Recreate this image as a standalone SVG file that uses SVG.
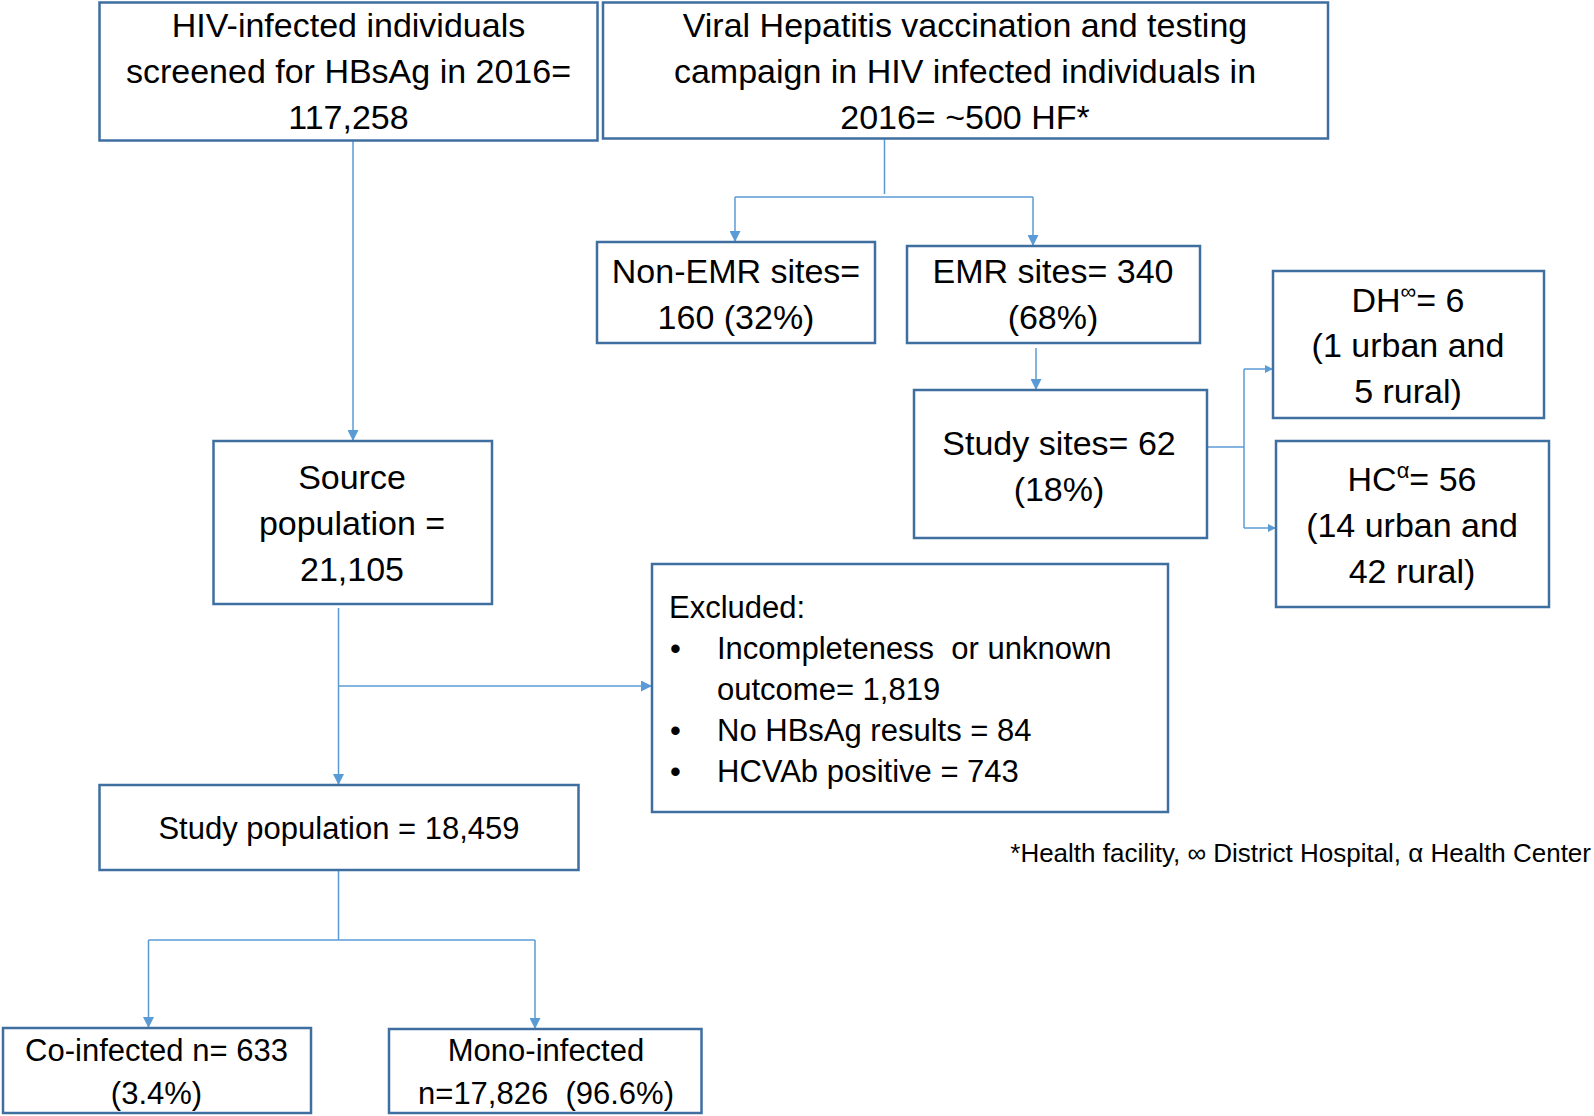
<svg xmlns="http://www.w3.org/2000/svg" width="1594" height="1116" viewBox="0 0 1594 1116">
<defs>
<marker id="ah" viewBox="0 0 10 10" refX="10" refY="5" markerWidth="12" markerHeight="11" markerUnits="userSpaceOnUse" orient="auto">
<path d="M0,0 L10,5 L0,10 z" fill="#5B9BD5"/>
</marker>
<marker id="ahs" viewBox="0 0 10 10" refX="10" refY="5" markerWidth="9" markerHeight="8" markerUnits="userSpaceOnUse" orient="auto">
<path d="M0,0 L10,5 L0,10 z" fill="#5B9BD5"/>
</marker>
</defs>
<style>
.box{fill:#fff;stroke:#3F6FA0;stroke-width:2.5}
.t{font-family:"Liberation Sans",Arial,sans-serif;font-size:34px;fill:#000;text-anchor:middle}
.s{font-family:"Liberation Sans",Arial,sans-serif;font-size:31px;fill:#000}
.f{font-family:"Liberation Sans",Arial,sans-serif;font-size:26px;fill:#000;text-anchor:end}
.sup{font-size:22px}
.c{fill:none;stroke:#5B9BD5;stroke-width:1.5}
.ca{fill:none;stroke:#5B9BD5;stroke-width:1.5;marker-end:url(#ah)}
.cs{fill:none;stroke:#5B9BD5;stroke-width:1.5;marker-end:url(#ahs)}
</style>
<rect width="1594" height="1116" fill="#fff"/>
<g id="connectors">
<path class="ca" d="M353,140 V441"/>
<path class="c" d="M884.5,138 V194"/>
<path class="c" d="M735,197 H1033"/>
<path class="ca" d="M735,197 V242"/>
<path class="ca" d="M1033,197 V246"/>
<path class="ca" d="M1036,348 V390"/>
<path class="c" d="M1207,447 H1244"/>
<path class="c" d="M1244,369 V528"/>
<path class="cs" d="M1244,369 H1273"/>
<path class="cs" d="M1244,528 H1276"/>
<path class="ca" d="M338.5,608 V785"/>
<path class="ca" d="M338.5,686 H652"/>
<path class="c" d="M338.5,870 V940"/>
<path class="c" d="M148.5,940 H535"/>
<path class="ca" d="M148.5,940 V1028"/>
<path class="ca" d="M535,940 V1029"/>
</g>
<g id="n-hiv">
<rect class="box" x="99.5" y="2.5" width="498" height="138"/>
<text class="t" x="348.5" y="37">HIV-infected individuals</text>
<text class="t" x="348.5" y="83">screened for HBsAg in 2016=</text>
<text class="t" x="348.5" y="129">117,258</text>
</g>
<g id="n-viral">
<rect class="box" x="603" y="2.5" width="725" height="136"/>
<text class="t" x="965" y="37">Viral Hepatitis vaccination and testing</text>
<text class="t" x="965" y="83">campaign in HIV infected individuals in</text>
<text class="t" x="965" y="129">2016= ~500 HF*</text>
</g>
<g id="n-nonemr">
<rect class="box" x="597" y="242" width="278" height="101"/>
<text class="t" x="736" y="283">Non-EMR sites=</text>
<text class="t" x="736" y="329">160 (32%)</text>
</g>
<g id="n-emr">
<rect class="box" x="907" y="246" width="293" height="97"/>
<text class="t" x="1053" y="283">EMR sites= 340</text>
<text class="t" x="1053" y="329">(68%)</text>
</g>
<g id="n-study-sites">
<rect class="box" x="914" y="390" width="293" height="148"/>
<text class="t" x="1059" y="455">Study sites= 62</text>
<text class="t" x="1059" y="501">(18%)</text>
</g>
<g id="n-dh">
<rect class="box" x="1273" y="271" width="271" height="147"/>
<text class="t" x="1408" y="312">DH<tspan class="sup" dy="-13">∞</tspan><tspan dy="13">= 6</tspan></text>
<text class="t" x="1408" y="357">(1 urban and</text>
<text class="t" x="1408" y="403">5 rural)</text>
</g>
<g id="n-hc">
<rect class="box" x="1276" y="441" width="273" height="166"/>
<text class="t" x="1412" y="491">HC<tspan class="sup" dy="-13">α</tspan><tspan dy="13">= 56</tspan></text>
<text class="t" x="1412" y="537">(14 urban and</text>
<text class="t" x="1412" y="583">42 rural)</text>
</g>
<g id="n-source">
<rect class="box" x="213.5" y="441" width="278.5" height="163"/>
<text class="t" x="352" y="489">Source</text>
<text class="t" x="352" y="535">population =</text>
<text class="t" x="352" y="581">21,105</text>
</g>
<g id="n-excluded">
<rect class="box" x="652" y="564" width="516" height="248"/>
<text class="s" x="669" y="618">Excluded:</text>
<text class="s" x="670" y="659">•</text>
<text class="s" x="717" y="659" xml:space="preserve">Incompleteness  or unknown</text>
<text class="s" x="717" y="700">outcome= 1,819</text>
<text class="s" x="670" y="741">•</text>
<text class="s" x="717" y="741">No HBsAg results = 84</text>
<text class="s" x="670" y="782">•</text>
<text class="s" x="717" y="782">HCVAb positive = 743</text>
</g>
<g id="n-study-pop">
<rect class="box" x="99.5" y="785" width="479" height="85"/>
<text class="s" x="339" y="839" text-anchor="middle">Study population = 18,459</text>
</g>
<g id="n-co">
<rect class="box" x="3" y="1028" width="308" height="85"/>
<text class="s" x="156.5" y="1061" text-anchor="middle">Co-infected n= 633</text>
<text class="s" x="156.5" y="1104" text-anchor="middle">(3.4%)</text>
</g>
<g id="n-mono">
<rect class="box" x="389" y="1029" width="312.5" height="84"/>
<text class="s" x="546" y="1061" text-anchor="middle">Mono-infected</text>
<text class="s" x="546" y="1104" text-anchor="middle" xml:space="preserve">n=17,826  (96.6%)</text>
</g>
<g id="footnote">
<text class="f" x="1591" y="862">*Health facility, ∞ District Hospital, α Health Center</text>
</g>
</svg>
